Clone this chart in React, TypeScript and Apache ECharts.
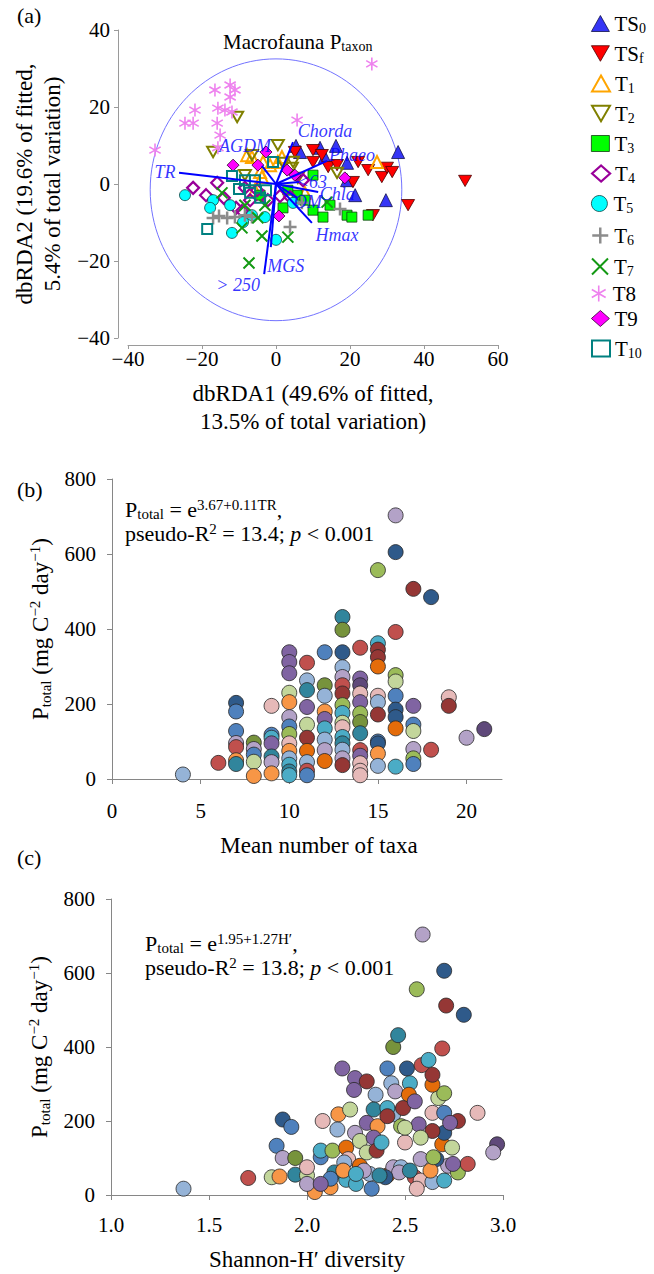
import React, { useEffect, useRef } from 'react';
import * as echarts from 'echarts';

const SERIF = "'Liberation Serif', 'Times New Roman', Times, serif";

// ---------------- Panel (a): dbRDA ordination (dbRDA1, dbRDA2) ----------------
const groupNames = ['TS0', 'TSf', 'T1', 'T2', 'T3', 'T4', 'T5', 'T6', 'T7', 'T8', 'T9', 'T10'];

const ts0 = [[5.4, 9.9], [6.5, 8.3], [11.9, 9.4], [13.2, 7], [16.2, 9.9], [19.2, 5.5], [33, 8.3], [21.4, -2.9], [29.7, -4.2], [19.2, 1]];
const tsf = [[5.1, 8.3], [10, 8.8], [12.4, 7.5], [10, 5.7], [14.1, 4.4], [16.5, 4.9], [22.2, 5.7], [24.9, 3.6], [28.6, 1.8], [30, 4.2], [31.4, 3.1], [20.8, 0.5], [35.7, -5.5], [26.2, -8.1], [51.1, 0.8]];
const t1 = [[-7.8, 7.5], [-6.5, 7], [-3.5, 5.7], [-4.3, 3.1], [-3.8, 1.8], [1.6, 7], [0.5, 5.7], [7.8, -2.3], [27.3, 5.7], [-5.7, -1.6], [-1.6, 4.9]];
const t2 = [[-10.5, 17.4], [-17, 8.3], [-6.5, 7.5], [0.5, 10.1], [-8.4, 2.3], [4.6, 5.7], [4.3, 4.2], [1.9, 5.5], [16.5, 2.9], [5.9, 1.6]];
const t3 = [[1.9, -6.2], [10, -6.8], [12.7, -8.6], [14.6, -5.5], [19.2, -8.1], [20.5, -8.6], [24.9, -8.1], [10, 2.3], [5.7, -2.9], [3.2, -1.6], [7.8, -4.2], [-4.3, -2.9]];
const t4 = [[-22.4, -1], [-18.9, -2.9], [-15.9, 0.3], [-14.1, -3.6], [-10.8, -6.2], [-9.2, -7], [-8.4, -1], [-5.1, -1.6], [-7, -4.2], [-2.2, -4.2], [1.1, -3.1], [3.8, -3.4], [7.3, 1]];
const t5 = [[-24.6, -2.9], [-17, -4.2], [-17.8, -6.2], [-11.9, -12.7], [-8.9, -9.9], [-6.5, -8.1], [-3, -8.6], [0, -14.5], [4.6, -4.9], [-12.4, -5.5]];
const t6 = [[-17, -8.8], [-15.4, -8.3], [-13.2, -8.8], [-11.1, -8.6], [-8.4, -8.1], [-6.5, -8.6], [3.8, -11.2], [17.3, -6.5], [7, -4.9]];
const t7 = [[-14.6, -2.3], [-9.2, -11.4], [-3.8, -13.5], [3.2, -13.8], [-7.3, -20.5], [13.8, -4.7], [-4.9, -8.8], [-3, -5.5], [-8.4, -5.5]];
const t8 = [[-16.5, 24.4], [-12.4, 25.7], [-11.1, 24.4], [-12.4, 22.6], [-21.9, 19.2], [-15.7, 19.7], [-13.8, 19.2], [-11.9, 18.7], [-24.6, 15.8], [-22.4, 15.8], [-15.9, 15.8], [-15.1, 12.7], [-15.7, 9.4], [-32.7, 8.8], [5.7, 16.6], [25.9, 31.2]];
const t9 = [[-11.6, 4.9], [-4.9, 4.9], [-2.7, 8.3], [18.6, 1.6], [0.8, -8.3], [3, 3.6], [5.1, 2.3]];
const t10 = [[-11.9, 2.1], [-10, -1.3], [-18.6, -11.7], [-0.8, 5.7], [-5.7, 1], [-2.7, -1.6], [-7, -2.3], [-8.4, 1], [-4.3, -3.6]];
const groupData = [ts0, tsf, t1, t2, t3, t4, t5, t6, t7, t8, t9, t10];

// environmental vectors (end points)
const vectorNames = ['TR', 'AGDM', 'Chorda', 'Phaeo', '<63', 'Chla', 'OM', 'Hmax', 'MGS', '> 250'];
const vectorX = [-26.2, -3.8, 4.6, 13.8, 6.2, 11.4, 5.7, 9.7, -1.4, -3.2];
const vectorY = [2.9, 4.7, 10.9, 6.0, 0.5, -2.1, -3.6, -10.1, -16.4, -23.4];
const circleCenter = [0, -1.5];
const circleRadius = 34;

// ---------------- Panel (b): P_total vs mean number of taxa ----------------
const panelB: [number, number, string][] = [
  [4, 12, 'lb'], [6, 43, 'rd'],
  [7, 203, 'db'], [7, 180, 'bl'], [7, 128, 'bl'], [7, 96, 'lav'], [7, 85, 'rd'], [7, 50, 'or'], [7, 40, 'tl'],
  [8, 97, 'og'], [8, 80, 'lav'], [8, 65, 'bl'], [8, 46, 'lg'], [8, 8, 'or'],
  [9, 195, 'pk'], [9, 118, 'bl'], [9, 110, 'aq'], [9, 95, 'pu'], [9, 60, 'tl'], [9, 45, 'lav'], [9, 15, 'or'],
  [10, 338, 'pu'], [10, 312, 'pu'], [10, 282, 'pu'], [10, 230, 'lg'], [10, 205, 'or'], [10, 165, 'lav'], [10, 140, 'bl'], [10, 120, 'gr'], [10, 95, 'pk'], [10, 75, 'or'], [10, 55, 'lb'], [10, 38, 'aq'], [10, 20, 'tl'], [10, 10, 'aq'],
  [11, 310, 'rd'], [11, 263, 'lb'], [11, 237, 'tl'], [11, 192, 'pu'], [11, 145, 'lg'], [11, 110, 'dr'], [11, 75, 'do'], [11, 45, 'lb'], [11, 22, 'rd'], [11, 10, 'bl'],
  [12, 338, 'bl'], [12, 250, 'og'], [12, 222, 'lb'], [12, 180, 'or'], [12, 160, 'pu'], [12, 135, 'aq'], [12, 105, 'lb'], [12, 77, 'lav'], [12, 48, 'do'],
  [13, 432, 'tl'], [13, 398, 'og'], [13, 338, 'db'], [13, 298, 'lb'], [13, 272, 'lav'], [13, 250, 'rd'], [13, 228, 'dr'], [13, 197, 'gr'], [13, 176, 'aq'], [13, 150, 'lg'], [13, 138, 'pk'], [13, 112, 'aq'], [13, 95, 'tl'], [13, 78, 'lb'], [13, 55, 'lav'], [13, 37, 'dr'],
  [14, 350, 'rd'], [14, 268, 'pu'], [14, 250, 'dp'], [14, 228, 'pk'], [14, 205, 'pu'], [14, 175, 'gr'], [14, 152, 'og'], [14, 122, 'tl'], [14, 77, 'rd'], [14, 62, 'pu'], [14, 42, 'pk'], [14, 22, 'pk'], [14, 10, 'pk'],
  [15, 557, 'gr'], [15, 362, 'aq'], [15, 345, 'dr'], [15, 325, 'dr'], [15, 300, 'do'], [15, 222, 'pk'], [15, 205, 'lb'], [15, 172, 'dr'], [15, 100, 'bl'], [15, 95, 'db'], [15, 68, 'or'], [15, 35, 'lb'],
  [16, 703, 'lav'], [16, 605, 'db'], [16, 392, 'rd'], [16, 277, 'gr'], [16, 260, 'lg'], [16, 222, 'bl'], [16, 185, 'db'], [16, 165, 'db'], [16, 135, 'do'], [16, 33, 'aq'],
  [17, 507, 'dr'], [17, 195, 'pu'], [17, 145, 'bl'], [17, 128, 'lg'], [17, 80, 'lav'], [17, 55, 'gr'], [17, 40, 'bl'],
  [18, 485, 'db'], [18, 78, 'rd'],
  [19, 218, 'pk'], [19, 195, 'dr'],
  [20, 110, 'lav'], [21, 133, 'dp'],
];

// ---------------- Panel (c): P_total vs Shannon-H' diversity ----------------
const panelC: [number, number, string][] = [
  [1.37, 17, 'lb'], [1.70, 46, 'rd'], [1.876, 204, 'db'], [1.92, 184, 'bl'], [1.845, 133, 'bl'], [1.876, 100, 'lav'], [1.94, 100, 'og'],
  [1.82, 48, 'lg'], [1.86, 50, 'or'], [1.94, 55, 'tl'], [2.0, 53, 'lg'], [2.0, 75, 'pk'], [2.04, 8, 'or'], [2.12, 21, 'or'],
  [2.07, 102, 'bl'], [2.07, 120, 'aq'], [2.13, 120, 'gr'], [2.14, 61, 'tl'], [2.2, 41, 'aq'], [2.25, 30, 'aq'], [2.2, 128, 'do'],
  [2.21, 97, 'pk'], [2.27, 79, 'do'], [2.08, 200, 'pk'], [2.16, 218, 'or'], [2.22, 231, 'lg'], [2.155, 177, 'lb'], [2.245, 168, 'lav'],
  [2.27, 146, 'lg'], [2.305, 115, 'lg'], [2.18, 342, 'pu'], [2.245, 316, 'pu'], [2.24, 284, 'pu'], [2.305, 307, 'dr'], [2.35, 271, 'lb'],
  [2.34, 231, 'tl'], [2.305, 195, 'pu'], [2.36, 186, 'or'], [2.34, 155, 'pu'], [2.355, 120, 'dr'], [2.38, 142, 'aq'], [2.32, 57, 'lb'],
  [2.33, 17, 'bl'], [2.41, 53, 'do'], [2.44, 75, 'lav'], [2.41, 342, 'bl'], [2.43, 302, 'lb'], [2.45, 280, 'lav'], [2.44, 218, 'lb'],
  [2.41, 235, 'aq'], [2.44, 400, 'og'], [2.465, 432, 'tl'], [2.51, 342, 'db'], [2.525, 302, 'aq'], [2.52, 271, 'do'], [2.49, 235, 'dr'],
  [2.48, 186, 'gr'], [2.55, 253, 'pu'], [2.57, 191, 'pu'], [2.5, 142, 'pk'], [2.48, 75, 'lb'], [2.47, 61, 'lav'], [2.55, 48, 'rd'],
  [2.58, 39, 'pk'], [2.56, 17, 'pk'], [2.64, 35, 'lb'], [2.70, 39, 'aq'], [2.72, 79, 'lav'], [2.77, 61, 'gr'], [2.82, 84, 'rd'],
  [2.66, 97, 'db'], [2.63, 66, 'or'], [2.69, 137, 'do'], [2.74, 128, 'lg'], [2.70, 168, 'db'], [2.64, 173, 'dr'], [2.64, 222, 'pk'],
  [2.70, 222, 'bl'], [2.77, 200, 'dr'], [2.73, 195, 'pu'], [2.87, 222, 'pk'], [2.67, 262, 'lg'], [2.70, 275, 'gr'], [2.64, 298, 'do'],
  [2.64, 325, 'dr'], [2.585, 351, 'rd'], [2.62, 365, 'aq'], [2.69, 396, 'rd'], [2.71, 512, 'dr'], [2.80, 487, 'db'], [2.70, 606, 'db'],
  [2.56, 556, 'gr'], [2.59, 704, 'lav'], [2.97, 137, 'dp'], [2.95, 115, 'lav'], [2.58, 97, 'lav'], [2.58, 155, 'lg'], [2.5, 182, 'lg'],
  [2.41, 213, 'dr'], [2.29, 66, 'lav'], [2.40, 48, 'db'], [2.19, 88, 'lb'], [2.12, 44, 'bl'], [2.185, 66, 'or'], [2.25, 57, 'aq'],
  [2.0, 30, 'lav'], [2.07, 30, 'pu'], [2.37, 53, 'tl'], [2.525, 66, 'tl'], [2.645, 102, 'gr'], [2.745, 84, 'pu'],
];

// ---------------- styles ----------------
const palette: Record<string, string> = {
  lav: '#B3A2C7', lb: '#95B3D7', db: '#2F5A8A', bl: '#4F81BD', rd: '#C0504D', dr: '#953735',
  gr: '#9BBB59', og: '#77933C', lg: '#C3D69B', pu: '#8064A2', dp: '#5F497A', aq: '#4BACC6',
  tl: '#31859C', or: '#F79646', do: '#E46C0A', pk: '#E6B9B8',
};

const CLEAR = 'rgba(255,255,255,0)';
const INV_TRI = 'path://M0,0L10,0L5,8.66Z';
const PLUS = 'path://M5,0L5,10M0,5L10,5';
const CROSS = 'path://M0,0L10,10M10,0L0,10';
const STAR = 'path://M5,0L5,10M0.67,2.5L9.33,7.5M0.67,7.5L9.33,2.5';

const groupStyle = [
  { symbol: 'triangle', size: 13, fill: '#3535F5', stroke: '#10104a', lw: 0.8 },
  { symbol: INV_TRI, size: 13, fill: '#FF0000', stroke: '#4a0000', lw: 0.8 },
  { symbol: 'triangle', size: 12, fill: CLEAR, stroke: '#FFA500', lw: 2 },
  { symbol: INV_TRI, size: 12, fill: CLEAR, stroke: '#808000', lw: 2 },
  { symbol: 'rect', size: 10, fill: '#00FF00', stroke: '#104010', lw: 0.8 },
  { symbol: 'diamond', size: 12, fill: CLEAR, stroke: '#990099', lw: 2.2 },
  { symbol: 'circle', size: 11, fill: '#00FFFF', stroke: '#104040', lw: 0.8 },
  { symbol: PLUS, size: 13, fill: CLEAR, stroke: '#8C8C8C', lw: 2.5 },
  { symbol: CROSS, size: 11, fill: CLEAR, stroke: '#139913', lw: 2 },
  { symbol: STAR, size: 13, fill: CLEAR, stroke: '#EE82EE', lw: 1.6 },
  { symbol: 'diamond', size: 12, fill: '#FF00FF', stroke: '#300030', lw: 0.8 },
  { symbol: 'rect', size: 10, fill: CLEAR, stroke: '#008080', lw: 2 },
];
const legendTops = [20, 50, 80, 110, 140, 170, 200, 232, 263, 290, 315, 345];
const vectorLabelOffset = [[-14, -1], [-17, -20], [32, -11], [25, -6], [13, 0], [19, 2], [11, 4], [25, 12], [15, 19], [-26, 11]];

const minusFmt = (v: number) => (v < 0 ? '\u2212' + Math.abs(v) : String(v));

const richBase = (size: number, lh: number, sub: number) => ({
  m: { fontFamily: SERIF, fontSize: size, lineHeight: lh, color: '#000' },
  i: { fontFamily: SERIF, fontSize: size, lineHeight: lh, color: '#000', fontStyle: 'italic' },
  s: { fontFamily: SERIF, fontSize: sub, lineHeight: sub, color: '#000', verticalAlign: 'bottom' },
  p: { fontFamily: SERIF, fontSize: sub, lineHeight: sub, color: '#000', verticalAlign: 'top' },
});

const legendLabel = (name: string) => {
  if (name === 'T8' || name === 'T9') return `{m|${name}}`;
  const mm = name.match(/^(TS|T)(.+)$/);
  return mm ? `{m|${mm[1]}}{s|${mm[2]}}` : `{m|${name}}`;
};

const AX_A = '#9A9A9A';
const AX_B = '#868686';
const tickLabel = { fontFamily: SERIF, fontSize: 21, color: '#000' };
const nameStyle = { fontFamily: SERIF, fontSize: 23, color: '#000', lineHeight: 28 };

function buildOption(): any {
  const series: any[] = [];
  groupNames.forEach((n, i) => {
    const st = groupStyle[i];
    series.push({
      type: 'scatter', name: n, xAxisIndex: 0, yAxisIndex: 0, data: groupData[i],
      symbol: st.symbol, symbolSize: st.size, symbolKeepAspect: true, z: 3, silent: true,
      itemStyle: { color: st.fill, borderColor: st.stroke, borderWidth: st.lw, opacity: 1 },
      emphasis: { disabled: true },
    });
  });
  series.push({
    type: 'lines', coordinateSystem: 'cartesian2d', xAxisIndex: 0, yAxisIndex: 0, z: 6, silent: true,
    lineStyle: { color: '#0000FF', width: 2, opacity: 1 },
    data: vectorNames.map((n, i) => ({ name: n, coords: [[0, 0], [vectorX[i], vectorY[i]]] })),
  });
  series.push({
    type: 'scatter', xAxisIndex: 0, yAxisIndex: 0, z: 7, silent: true, symbolSize: 1,
    itemStyle: { color: CLEAR },
    label: { show: true, position: 'inside', formatter: '{b}', fontFamily: SERIF, fontStyle: 'italic', fontSize: 18, color: '#0000FF' },
    data: vectorNames.map((n, i) => ({ name: n, value: [vectorX[i], vectorY[i]], label: { offset: vectorLabelOffset[i] } })),
  });
  const dot = { symbolSize: 15, itemStyle: { borderColor: '#262626', borderWidth: 0.8, opacity: 1 } };
  series.push({
    type: 'scatter', xAxisIndex: 1, yAxisIndex: 1, silent: true, ...dot,
    data: panelB.map(([x, y, k]) => ({ value: [x, y], itemStyle: { color: palette[k] } })),
  });
  series.push({
    type: 'scatter', xAxisIndex: 2, yAxisIndex: 2, silent: true, ...dot,
    data: panelC.map(([x, y, k]) => ({ value: [x, y], itemStyle: { color: palette[k] } })),
  });

  const pRich = richBase(23, 26, 15);
  const pName = '{m|P}{s|total}{m| (mg C}{p|\u22122}{m| day}{p|\u22121}{m|)}';
  const annRich = richBase(22, 24, 15);

  return {
    animation: false,
    backgroundColor: '#fff',
    grid: [
      { left: 128, top: 30, width: 370, height: 308 },
      { left: 112, top: 479, width: 390, height: 300 },
      { left: 111, top: 899, width: 392, height: 299 },
    ],
    xAxis: [
      {
        gridIndex: 0, type: 'value', min: -40, max: 60, interval: 20, offset: 7,
        axisLine: { show: true, onZero: false, lineStyle: { color: AX_A } }, axisTick: { show: true, length: 4, lineStyle: { color: AX_A } },
        splitLine: { show: false }, axisLabel: { ...tickLabel, margin: 3, formatter: minusFmt },
        name: 'dbRDA1 (49.6% of fitted,\n13.5% of total variation)', nameLocation: 'middle', nameGap: 34,
        nameTextStyle: nameStyle,
      },
      {
        gridIndex: 1, type: 'value', min: 0, max: 22,
        axisLine: { show: true, onZero: false, lineStyle: { color: AX_B } },
        axisTick: { show: true, length: 5, customValues: [0, 5, 10, 15, 20], lineStyle: { color: AX_B } },
        splitLine: { show: false }, axisLabel: { ...tickLabel, margin: 21, customValues: [0, 5, 10, 15, 20] },
        name: 'Mean number of taxa', nameLocation: 'middle', nameGap: 52,
        nameTextStyle: { ...nameStyle, padding: [0, 0, 0, 24] },
      },
      {
        gridIndex: 2, type: 'value', min: 1, max: 3, interval: 0.5,
        axisLine: { show: true, onZero: false, lineStyle: { color: AX_B } }, axisTick: { show: true, length: 5, lineStyle: { color: AX_B } },
        splitLine: { show: false }, axisLabel: { ...tickLabel, margin: 19, formatter: (v: number) => v.toFixed(1) },
        name: 'Shannon-H\u2032 diversity', nameLocation: 'middle', nameGap: 50,
        nameTextStyle: nameStyle,
      },
    ],
    yAxis: [
      {
        gridIndex: 0, type: 'value', min: -40, max: 40, interval: 20, offset: 10,
        axisLine: { show: true, onZero: false, lineStyle: { color: AX_A } }, axisTick: { show: true, length: 4, lineStyle: { color: AX_A } },
        splitLine: { show: false }, axisLabel: { ...tickLabel, margin: 8, formatter: minusFmt },
        name: 'dbRDA2 (19.6% of fitted,\n5.4% of total variation)', nameLocation: 'middle', nameGap: 49,
        nameTextStyle: nameStyle,
      },
      {
        gridIndex: 1, type: 'value', min: 0, max: 800, interval: 200,
        axisLine: { show: true, onZero: false, lineStyle: { color: AX_B } }, axisTick: { show: true, length: 5, lineStyle: { color: AX_B } },
        splitLine: { show: false }, axisLabel: { ...tickLabel, margin: 16 },
        name: pName, nameLocation: 'middle', nameGap: 57, nameTextStyle: { rich: pRich },
      },
      {
        gridIndex: 2, type: 'value', min: 0, max: 800, interval: 200,
        axisLine: { show: true, onZero: false, lineStyle: { color: AX_B } }, axisTick: { show: true, length: 5, lineStyle: { color: AX_B } },
        splitLine: { show: false }, axisLabel: { ...tickLabel, margin: 16 },
        name: pName, nameLocation: 'middle', nameGap: 57, nameTextStyle: { rich: pRich },
      },
    ],
    legend: groupNames.map((n, i) => ({
      data: [n], left: 586, top: legendTops[i] - 12, orient: 'vertical', itemWidth: 18, itemHeight: 16,
      selectedMode: false, formatter: legendLabel,
      itemStyle: { borderWidth: groupStyle[i].lw },
      textStyle: { fontFamily: SERIF, fontSize: 21, color: '#000', rich: richBase(21, 24, 14) },
    })),
    graphic: {
      elements: [
        { id: 'la', type: 'text', left: 17, top: 4, style: { text: '(a)', font: `22px ${SERIF}`, fill: '#000' } },
        { id: 'lb', type: 'text', left: 17, top: 478, style: { text: '(b)', font: `22px ${SERIF}`, fill: '#000' } },
        { id: 'lc', type: 'text', left: 17, top: 846, style: { text: '(c)', font: `22px ${SERIF}`, fill: '#000' } },
        { id: 'ttl', type: 'text', left: 223, top: 31, style: { text: '{m|Macrofauna P}{s|taxon}', rich: richBase(21, 24, 14) } },
        {
          id: 'annB', type: 'text', left: 125, top: 497,
          style: { text: '{m|P}{s|total}{m| = e}{p|3.67+0.11TR}{m|,}\n{m|pseudo-R}{p|2}{m| = 13.4; }{i|p}{m| < 0.001}', rich: annRich },
        },
        {
          id: 'annC', type: 'text', left: 145, top: 931,
          style: { text: '{m|P}{s|total}{m| = e}{p|1.95+1.27H\u2032}{m|,}\n{m|pseudo-R}{p|2}{m| = 13.8; }{i|p}{m| < 0.001}', rich: annRich },
        },
      ],
    },
    series,
  };
}

export default function App() {
  const ref = useRef<HTMLDivElement>(null);
  useEffect(() => {
    if (!ref.current) return;
    const chart = echarts.init(ref.current, null, { renderer: 'svg' });
    const option = buildOption();
    chart.setOption(option);
    const c = chart.convertToPixel({ gridIndex: 0 }, circleCenter) as number[];
    const e = chart.convertToPixel({ gridIndex: 0 }, [circleCenter[0] + circleRadius, circleCenter[1] + circleRadius]) as number[];
    option.graphic.elements.push({
      id: 'corrCircle', type: 'ellipse', z: 1, silent: true,
      shape: { cx: c[0], cy: c[1], rx: Math.abs(e[0] - c[0]), ry: Math.abs(c[1] - e[1]) },
      style: { fill: 'none', stroke: '#7373FF', lineWidth: 1 },
    });
    chart.setOption(option, true);
    return () => chart.dispose();
  }, []);
  return <div ref={ref} style={{ position: 'absolute', left: 0, top: 0, width: 654, height: 1274 }} />;
}
